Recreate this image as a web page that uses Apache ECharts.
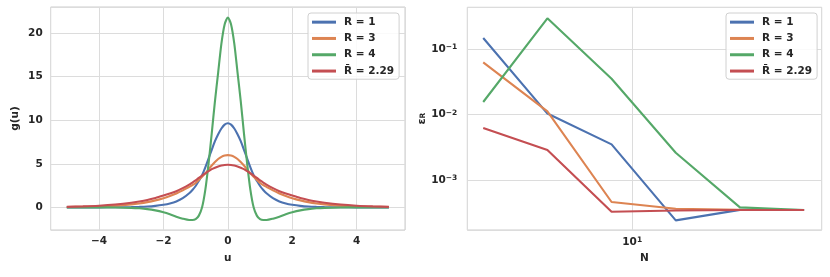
<!DOCTYPE html>
<html>
<head>
<meta charset="utf-8">
<script src="https://cdn.jsdelivr.net/npm/echarts@6/dist/echarts.min.js"></script>
<style>
html,body{margin:0;padding:0;background:#fff;}
#chart{width:830px;height:277px;}
</style>
</head>
<body>
<div id="chart"></div>
<script>
// ---- data (left panel) ----
const U = [-5, -4.5, -4, -3.5, -3, -2.75, -2.5, -2.25, -2, -1.8, -1.6, -1.4, -1.2, -1.1, -1, -0.9, -0.8, -0.7, -0.6, -0.5, -0.4, -0.3, -0.2, -0.1, 0, 0.1, 0.2, 0.3, 0.4, 0.5, 0.6, 0.7, 0.8, 0.9, 1, 1.1, 1.2, 1.4, 1.6, 1.8, 2, 2.25, 2.5, 2.75, 3, 3.5, 4, 4.5, 5];
const gR1 = [0, 0, 0, 0.01, 0.03, 0.05, 0.09, 0.17, 0.3, 0.45, 0.68, 1.05, 1.62, 2.0, 2.45, 3.05, 3.7, 4.6, 5.6, 6.6, 7.6, 8.4, 9.05, 9.5, 9.65, 9.5, 9.05, 8.4, 7.6, 6.6, 5.6, 4.6, 3.7, 3.05, 2.45, 2.0, 1.62, 1.05, 0.68, 0.45, 0.3, 0.17, 0.09, 0.05, 0.03, 0.01, 0, 0, 0];
const gR3 = [0.04, 0.07, 0.12, 0.2, 0.34, 0.45, 0.6, 0.8, 1.05, 1.3, 1.6, 1.95, 2.35, 2.55, 2.8, 3.15, 3.5, 3.9, 4.35, 4.8, 5.2, 5.55, 5.8, 5.95, 6.0, 5.95, 5.8, 5.55, 5.2, 4.8, 4.35, 3.9, 3.5, 3.15, 2.8, 2.55, 2.35, 1.95, 1.6, 1.3, 1.05, 0.8, 0.6, 0.45, 0.34, 0.2, 0.12, 0.07, 0.04];
const gR4 = [0, 0, 0, -0.02, -0.06, -0.11, -0.2, -0.35, -0.57, -0.8, -1.07, -1.3, -1.45, -1.45, -1.35, -0.95, 0.0, 2.0, 5.0, 8.5, 12.2, 15.5, 18.8, 21.0, 21.8, 21.0, 18.8, 15.5, 12.2, 8.5, 5.0, 2.0, 0.0, -0.95, -1.35, -1.45, -1.45, -1.3, -1.07, -0.8, -0.57, -0.35, -0.2, -0.11, -0.06, -0.02, 0, 0, 0];
const gRbar = [0.06, 0.11, 0.19, 0.32, 0.52, 0.67, 0.85, 1.08, 1.35, 1.58, 1.85, 2.2, 2.6, 2.85, 3.1, 3.38, 3.65, 3.9, 4.15, 4.38, 4.55, 4.7, 4.8, 4.87, 4.89, 4.87, 4.8, 4.7, 4.55, 4.38, 4.15, 3.9, 3.65, 3.38, 3.1, 2.85, 2.6, 2.2, 1.85, 1.58, 1.35, 1.08, 0.85, 0.67, 0.52, 0.32, 0.19, 0.11, 0.06];
const uTicks = [-4, -2, 0, 2, 4];
const gTicks = [0, 5, 10, 15, 20];

// ---- data (right panel) ----
const N = [2, 4, 8, 16, 32, 64];
const epsR1 = [0.147, 0.0104, 0.00353, 0.000246, 0.000355, 0.000353];
const epsR3 = [0.0627, 0.0112, 0.000468, 0.00037, 0.000357, 0.000353];
const epsR4 = [0.0156, 0.293, 0.0353, 0.00263, 0.000388, 0.000353];
const epsRbar = [0.00626, 0.00289, 0.000333, 0.000347, 0.000353, 0.000353];
const nTicks = [10];
const epsTicks = [0.001, 0.01, 0.1];

const names = ['R = 1', 'R = 3', 'R = 4', 'R\u0304 = 2.29'];
const colors = ['#4C72B0', '#DD8452', '#55A868', '#C44E52'];

const pair = (xs, ys) => xs.map((x, i) => [x, ys[i]]);
const FONT = 'DejaVu Sans';
const TXT = '#262626';
function pickFmt(list) {
  return v => list.some(t => Math.abs(t - v) < 1e-9) ? String(v).replace('-', '\u2212') : '';
}
function logFmt(list) {
  return v => {
    if (!list.some(t => Math.abs(Math.log10(t) - Math.log10(v)) < 1e-6)) return '';
    const e = Math.round(Math.log10(v));
    return '10{sup|' + (e < 0 ? '\u2212' : '') + Math.abs(e) + '}';
  };
}
const supRich = { sup: { fontSize: 7.5, fontWeight: 'bold', fontFamily: FONT, color: TXT, verticalAlign: 'top', padding: [0, 0, 4, 0] } };

const lineSeries = (xi, yi, data) => data.map((d, k) => ({
  name: names[k], type: 'line', xAxisIndex: xi, yAxisIndex: yi,
  data: d, showSymbol: false, symbol: 'none', smooth: xi === 0 ? 0.25 : false,
  lineStyle: { color: colors[k], width: 2.1 }, itemStyle: { color: colors[k] },
  z: 2 + k, animation: false
}));

const splitLine = { show: true, lineStyle: { color: '#dcdcdc', width: 1 } };
const baseLabel = { color: TXT, fontFamily: FONT, fontWeight: 'bold', fontSize: 10.5 };
const nameStyle = { color: TXT, fontFamily: FONT, fontWeight: 'bold', fontSize: 10.5 };

const legendBase = {
  orient: 'vertical', top: 13, itemGap: 0, itemWidth: 24, itemHeight: 3,
  icon: 'path://M0,0 L24,0 L24,3 L0,3 Z',
  padding: [1, 5, 0, 4], borderColor: '#d0d0d0', borderWidth: 1, borderRadius: 3,
  backgroundColor: 'rgba(255,255,255,0.85)',
  textStyle: { color: TXT, fontFamily: FONT, fontWeight: 'bold', fontSize: 10.5, lineHeight: 16.3, padding: [0, 0, 0, 3] },
  data: names, selectedMode: false
};

const option = {
  animation: false,
  backgroundColor: '#ffffff',
  legend: [
    Object.assign({}, legendBase, { left: 308 }),
    Object.assign({}, legendBase, { left: 726 })
  ],
  grid: [
    { left: 50.7, top: 7, width: 354.3, height: 223, show: true, borderColor: '#cccccc', borderWidth: 1, backgroundColor: '#fff' },
    { left: 467.3, top: 7.3, width: 354.4, height: 222.7, show: true, borderColor: '#cccccc', borderWidth: 1, backgroundColor: '#fff' }
  ],
  xAxis: [
    { type: 'value', gridIndex: 0, min: -5.5, max: 5.5,
      axisLine: { show: false }, axisTick: { show: false }, splitLine,
      axisLabel: Object.assign({}, baseLabel, { margin: 6, formatter: pickFmt(uTicks) }),
      name: 'u', nameLocation: 'middle', nameGap: 23, nameTextStyle: nameStyle },
    { type: 'log', logBase: 10, gridIndex: 1, min: 1.684, max: 77.4,
      axisLine: { show: false }, axisTick: { show: false }, splitLine, minorSplitLine: { show: false },
      axisLabel: Object.assign({}, baseLabel, { margin: 6, formatter: logFmt(nTicks), rich: supRich }),
      name: 'N', nameLocation: 'middle', nameGap: 23, nameTextStyle: nameStyle }
  ],
  yAxis: [
    { type: 'value', gridIndex: 0, min: -2.6, max: 23,
      axisLine: { show: false }, axisTick: { show: false }, splitLine,
      axisLabel: Object.assign({}, baseLabel, { margin: 8, formatter: pickFmt(gTicks) }),
      name: 'g(u)', nameLocation: 'middle', nameGap: 30, nameRotate: 90, nameTextStyle: nameStyle },
    { type: 'log', logBase: 10, gridIndex: 1, min: 1.754e-4, max: 0.4315,
      axisLine: { show: false }, axisTick: { show: false }, splitLine, minorSplitLine: { show: false },
      axisLabel: Object.assign({}, baseLabel, { margin: 10, formatter: logFmt(epsTicks), rich: supRich }),
      name: '{e|\u03b5}{s|R}', nameLocation: 'middle', nameGap: 40, nameRotate: 90,
      nameTextStyle: Object.assign({}, nameStyle, { rich: {
        e: { fontFamily: FONT, fontWeight: 'bold', fontSize: 11, color: TXT },
        s: { fontFamily: FONT, fontWeight: 'bold', fontSize: 7.5, color: TXT, verticalAlign: 'bottom' }
      } }) }
  ],
  series: [].concat(
    lineSeries(0, 0, [pair(U, gR1), pair(U, gR3), pair(U, gR4), pair(U, gRbar)]),
    lineSeries(1, 1, [pair(N, epsR1), pair(N, epsR3), pair(N, epsR4), pair(N, epsRbar)])
  )
};

const chart = echarts.init(document.getElementById('chart'), null, { renderer: 'canvas' });
chart.setOption(option);
</script>
</body>
</html>
